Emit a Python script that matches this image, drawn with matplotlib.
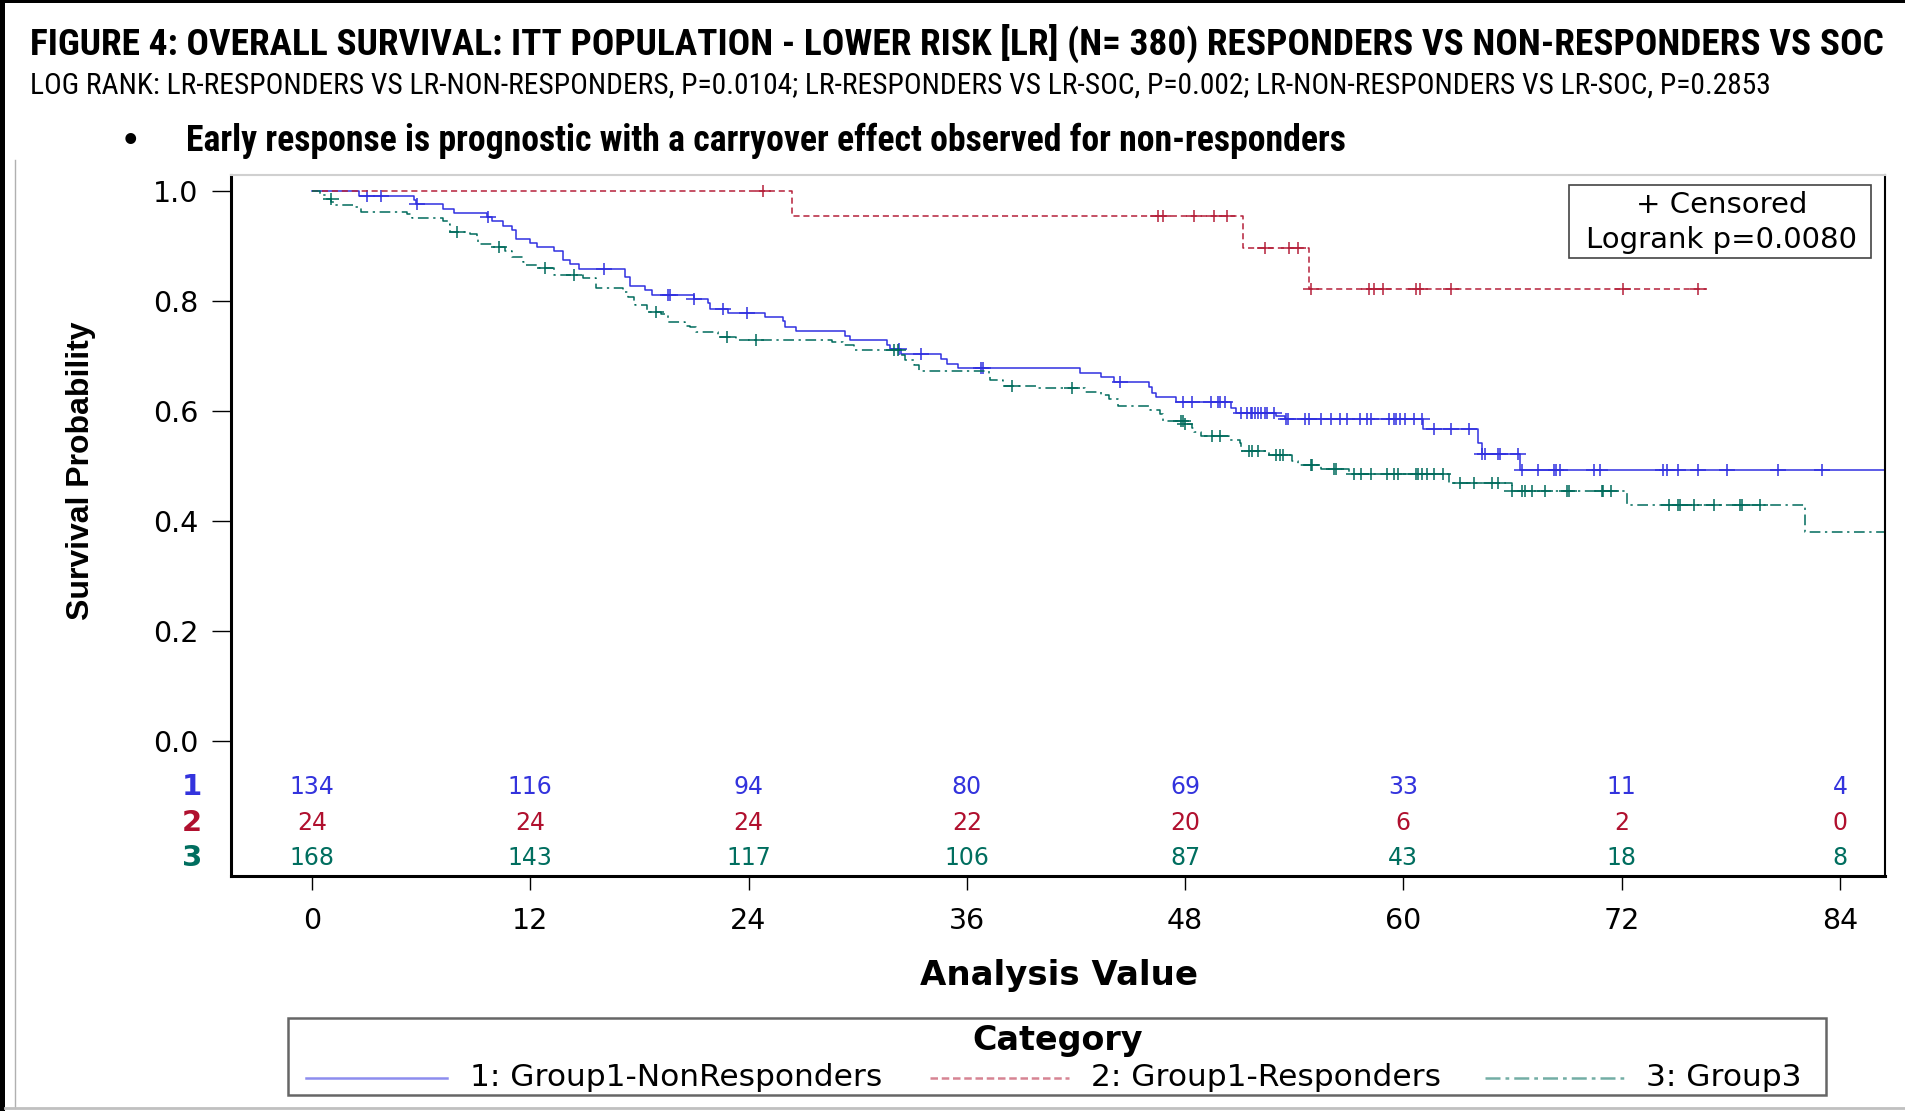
import numpy as np
import matplotlib
matplotlib.use("Agg")
import matplotlib.pyplot as plt
from matplotlib import font_manager as fm
from matplotlib.path import Path
from matplotlib.lines import Line2D
from matplotlib.patches import Rectangle

W, H = 1905, 1111

# ---- data ----
title = "FIGURE 4: OVERALL SURVIVAL: ITT POPULATION - LOWER RISK [LR] (N= 380) RESPONDERS VS NON-RESPONDERS VS SOC"
subtitle = ("LOG RANK: LR-RESPONDERS VS LR-NON-RESPONDERS, P=0.0104; LR-RESPONDERS VS LR-SOC, "
            "P=0.002; LR-NON-RESPONDERS VS LR-SOC, P=0.2853")
bullet = "Early response is prognostic with a carryover effect observed for non-responders"

group_labels = ["1: Group1-NonResponders", "2: Group1-Responders", "3: Group3"]

# group 1 (non-responders): event times (months) and survival after each drop
g1_t = [2.6, 5.6, 5.7, 7.2, 7.8, 9.6, 9.9, 10.5, 11.0, 11.2, 12.0, 12.4, 13.3, 13.8, 14.2,
        14.7, 17.2, 17.5, 18.3, 18.7, 21.0, 21.8, 21.9, 22.9, 24.9, 25.9, 26.0, 26.6, 29.3,
        29.6, 31.6, 31.8, 32.4, 34.6, 34.9, 35.5, 42.2, 43.4, 44.1, 46.0, 46.2, 46.4, 47.5,
        50.5, 50.8, 53.0, 53.5, 61.1, 64.1, 64.3, 66.4]
g1_s = [0.992, 0.985, 0.977, 0.969, 0.961, 0.953, 0.946, 0.938, 0.930, 0.914, 0.906, 0.899,
        0.891, 0.876, 0.868, 0.859, 0.844, 0.828, 0.820, 0.812, 0.805, 0.797, 0.787, 0.779,
        0.771, 0.764, 0.754, 0.746, 0.738, 0.730, 0.721, 0.713, 0.704, 0.695, 0.687, 0.679,
        0.670, 0.662, 0.653, 0.644, 0.634, 0.626, 0.617, 0.607, 0.598, 0.592, 0.586, 0.568,
        0.543, 0.522, 0.494]
g1_cens = [3.0, 3.8, 5.8, 9.7, 16.05, 19.6, 19.7, 21.0, 22.6, 23.9, 32.3, 33.5, 36.8, 36.9,
           44.4, 47.9, 48.4, 49.45, 49.8, 49.9, 50.2, 51.1, 51.4, 51.6, 51.7, 51.85, 52.0, 52.2,
           52.4, 52.5, 52.9, 53.55, 53.65, 54.6, 54.8, 55.5, 56.0, 56.5, 56.9, 57.6, 58.0, 58.2,
           59.2, 59.5, 59.6, 59.8, 60.1, 60.6, 61.0, 61.7, 62.6, 63.6, 64.3, 64.5, 65.2, 65.3,
           66.3, 66.5, 67.4, 68.3, 68.4, 68.6, 70.5, 70.8, 74.25, 74.5, 75.1, 76.2, 77.8, 80.6,
           83.0]
g1_end = 86.5

# group 2 (responders)
g2_t = [26.4, 51.2, 54.8]
g2_s = [0.956, 0.897, 0.822]
g2_cens = [24.8, 46.5, 46.8, 48.5, 49.6, 50.3, 52.4, 53.7, 54.2, 54.9, 58.1, 58.4, 58.9,
           60.7, 60.9, 62.6, 72.1, 76.2]
g2_end = 76.7

# group 3 (SOC)
g3_t = [0.44, 0.77, 1.05, 1.2, 2.27, 2.69, 5.2, 5.5, 7.2, 7.5, 7.6, 8.7, 9.05, 9.15, 9.9,
        10.6, 11.0, 11.6, 11.7, 12.5, 13.3, 14.9, 15.6, 17.1, 17.4, 17.7, 17.75, 18.4, 19.2,
        19.55, 19.6, 20.5, 20.8, 21.1, 22.3, 23.3, 28.6, 29.2, 29.8, 32.4, 32.6, 33.1, 33.4,
        37.2, 37.3, 38.0, 39.9, 42.5, 43.4, 43.8, 44.3, 46.1, 46.6, 46.8, 48.0, 48.4, 48.5,
        48.9, 50.4, 51.0, 51.1, 52.6, 53.9, 54.2, 55.5, 57.0, 62.5, 66.0, 72.3, 82.1]
g3_s = [0.993, 0.986, 0.981, 0.975, 0.971, 0.963, 0.959, 0.952, 0.947, 0.941, 0.927, 0.923,
        0.914, 0.905, 0.899, 0.891, 0.880, 0.872, 0.866, 0.860, 0.849, 0.843, 0.824, 0.818,
        0.809, 0.801, 0.793, 0.780, 0.777, 0.771, 0.763, 0.756, 0.753, 0.744, 0.736, 0.730,
        0.726, 0.720, 0.711, 0.703, 0.694, 0.684, 0.674, 0.666, 0.657, 0.647, 0.642, 0.636,
        0.630, 0.622, 0.610, 0.602, 0.595, 0.583, 0.577, 0.570, 0.562, 0.556, 0.548, 0.542,
        0.528, 0.520, 0.510, 0.503, 0.495, 0.487, 0.470, 0.455, 0.429, 0.381]
g3_cens = [1.04, 8.0, 10.3, 12.8, 14.4, 18.9, 22.8, 24.4, 32.0, 32.2, 38.5, 41.8, 47.8, 47.9,
           48.0, 49.5, 49.9, 51.5, 51.7, 52.0, 53.0, 53.2, 53.4, 54.9, 55.0, 56.2, 56.3, 57.3,
           57.7, 58.2, 59.1, 59.5, 59.7, 60.7, 60.8, 61.0, 61.3, 61.7, 62.2, 63.1, 63.9, 64.9,
           65.2, 66.0, 66.5, 66.7, 67.1, 67.8, 69.0, 69.1, 70.9, 71.0, 71.4, 74.6, 75.1, 75.2,
           76.0, 77.1, 78.5, 78.6, 79.6]
g3_end = 86.5

# numbers at risk
risk_times = [0, 12, 24, 36, 48, 60, 72, 84]
risk1 = [134, 116, 94, 80, 69, 33, 11, 4]
risk2 = [24, 24, 24, 22, 20, 6, 2, 0]
risk3 = [168, 143, 117, 106, 87, 43, 18, 8]

x_ticks = [0, 12, 24, 36, 48, 60, 72, 84]
y_ticks = [0.0, 0.2, 0.4, 0.6, 0.8, 1.0]

# ---- styles ----
c_blue, c_red, c_green = "#3030e0", "#b5203a", "#006b5c"
t_blue, t_red, t_green = "#3333dd", "#b0102e", "#006e5f"

names = {f.name for f in fm.fontManager.ttflist}
narrow = next(n for n in ["Liberation Sans Narrow", "Roboto Condensed", "Open Sans Condensed",
                          "Liberation Sans", "DejaVu Sans"] if n in names)


def fx(px):
    return px / W


def fy(py):
    return 1 - py / H


fig = plt.figure(figsize=(W / 100, H / 100), dpi=100)
fig.patch.set_facecolor("white")

ax = fig.add_axes([fx(231), fy(876), (1885 - 231) / W, (876 - 175) / H])
ax.set_xlim(-4.45, 86.48)
ax.set_ylim(-0.245, 1.030)

plus = Path([(-1, 0), (1, 0), (0, -0.72), (0, 0.72)],
            [Path.MOVETO, Path.LINETO, Path.MOVETO, Path.LINETO])


def draw_group(t, s, cens, end, color, ls):
    times = np.array([0.0] + t + [end])
    surv = np.array([1.0] + s + [s[-1]])
    ax.step(times, surv, where="post", color=color, lw=1.1, linestyle=ls)
    cens = np.array(cens)
    idx = np.searchsorted(times, cens, side="right") - 1
    ax.plot(cens, surv[idx], linestyle="none", marker=plus, markersize=12,
            markeredgewidth=1.1, color=color)


draw_group(g1_t, g1_s, g1_cens, g1_end, c_blue, "-")
draw_group(g2_t, g2_s, g2_cens, g2_end, c_red, (0, (4, 2.5)))
draw_group(g3_t, g3_s, g3_cens, g3_end, c_green, (0, (7, 3, 1.5, 3)))

# risk table inside the axes frame
rows = [(risk1, t_blue, -0.084, "1"), (risk2, t_red, -0.148, "2"), (risk3, t_green, -0.213, "3")]
for vals, col, yy, lab in rows:
    for xt, v in zip(risk_times, vals):
        ax.text(xt, yy, str(v), color=col, fontsize=17, ha="center", va="center")
    ax.text(-6.6, yy, lab, color=col, fontsize=21, fontweight="bold", ha="center", va="center")

ax.set_xticks(x_ticks)
ax.set_xticklabels([str(v) for v in x_ticks])
ax.set_yticks(y_ticks)
ax.set_yticklabels([f"{v:.1f}" for v in y_ticks])
ax.tick_params(axis="x", length=10, width=1, pad=12, labelsize=20.5)
ax.tick_params(axis="y", length=13.5, width=1, pad=10, labelsize=20.5)
for side in ["left", "bottom"]:
    ax.spines[side].set_linewidth(2.2)
ax.spines["right"].set_linewidth(1.5)
ax.spines["top"].set_color("#d0d0d0")
ax.spines["top"].set_linewidth(1.5)

# censored / logrank box
fig.patches.append(Rectangle((fx(1569), fy(258)), (1871 - 1569) / W, (258 - 185) / H,
                             transform=fig.transFigure, facecolor="white",
                             edgecolor="#444444", lw=1.2))
fig.text(fx(1722), fy(213), "+ Censored", fontsize=21, ha="center", va="baseline")
fig.text(fx(1722), fy(248), "Logrank p=0.0080", fontsize=21, ha="center", va="baseline")

# axis labels
fig.text(fx(1059), fy(985), "Analysis Value", fontsize=24.5, fontweight="bold",
         ha="center", va="baseline")
fig.text(fx(81), fy(471), "Survival Probability", fontsize=23, fontweight="bold",
         family=["Liberation Sans", "DejaVu Sans"], rotation=90, ha="center", va="center")

# legend at the bottom
fig.patches.append(Rectangle((fx(288), fy(1095)), (1826 - 288) / W, (1095 - 1018) / H,
                             transform=fig.transFigure, facecolor="white",
                             edgecolor="#666666", lw=1.8))
fig.text(fx(1058), fy(1050), "Category", fontsize=24, fontweight="bold",
         ha="center", va="baseline")
leg_items = [(c_blue, "-", 306, 447, 470), (c_red, (0, (3, 1.5)), 930, 1069, 1091),
             (c_green, (0, (6, 2, 1.5, 2)), 1485, 1625, 1646)]
for (col, ls, x0, x1, tx), lab in zip(leg_items, group_labels):
    fig.add_artist(Line2D([fx(x0), fx(x1)], [fy(1078), fy(1078)], transform=fig.transFigure,
                          color=col, lw=1.8, alpha=0.55, linestyle=ls))
    fig.text(fx(tx), fy(1086), lab, fontsize=22.5, ha="left", va="baseline")

# slide text above the chart
renderer = fig.canvas.get_renderer()


def fit(t, width):
    w = t.get_window_extent(renderer).width
    t.set_fontsize(t.get_fontsize() * width / w)


t1 = fig.text(fx(30), fy(55), title, family=[narrow, "DejaVu Sans"], fontweight="bold",
              fontsize=22, va="baseline")
fit(t1, 1850)
t2 = fig.text(fx(30), fy(94), subtitle, family=[narrow, "DejaVu Sans"], fontsize=16,
              va="baseline")
fit(t2, 1750)
fig.text(fx(130), fy(150), "\u2022", family=["DejaVu Sans"], fontweight="bold",
         fontsize=22, ha="center", va="baseline")
t3 = fig.text(fx(186), fy(151), bullet, family=[narrow, "DejaVu Sans"], fontweight="bold",
              fontsize=18, va="baseline")
fit(t3, 1165)

# slide border bits
fig.patches.append(Rectangle((0, 0), fx(5), 1, transform=fig.transFigure,
                             facecolor="black", edgecolor="none"))
fig.patches.append(Rectangle((0, fy(3)), 1, 3 / H, transform=fig.transFigure,
                             facecolor="black", edgecolor="none"))
fig.add_artist(Line2D([fx(15), fx(15)], [fy(160), fy(1108)], transform=fig.transFigure,
                      color="#b0b0b0", lw=1))
fig.add_artist(Line2D([fx(5), 1], [fy(1108), fy(1108)], transform=fig.transFigure,
                      color="#c0c0c0", lw=2))

fig.savefig("out.png", dpi=100)
